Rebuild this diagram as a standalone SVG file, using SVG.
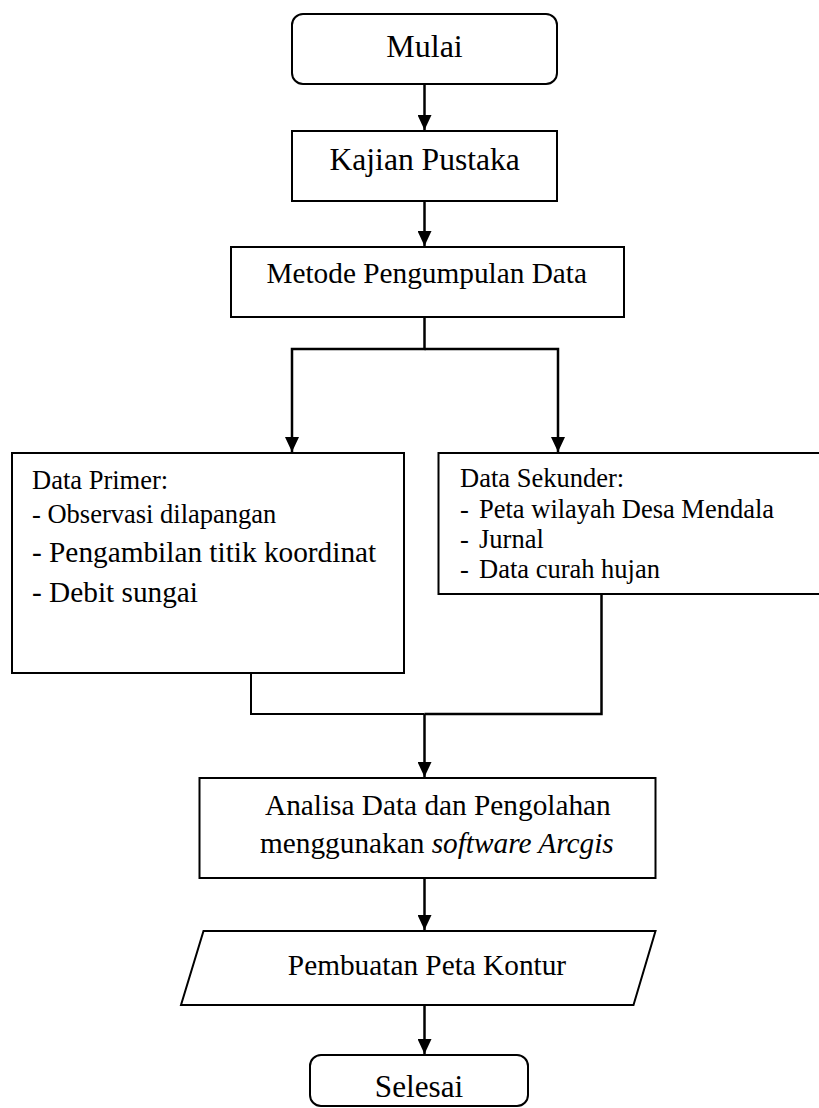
<svg xmlns="http://www.w3.org/2000/svg" width="819" height="1108" viewBox="0 0 819 1108">
<style>
.box{fill:#fff;stroke:#000;stroke-width:2}
.c{text-anchor:middle}
.conn path{fill:none;stroke:#000;stroke-width:2.5}
</style>
<defs>
<marker id="ah" markerUnits="userSpaceOnUse" markerWidth="15" markerHeight="14" refX="15" refY="7" orient="auto">
<path d="M0,0 L15,7 L0,14 z" fill="#000"/>
</marker>
</defs>
<g font-family="Liberation Serif, Times New Roman, serif" fill="#000">
<g id="mulai">
<rect class="box" x="292" y="14" width="265" height="70" rx="11"/>
<text class="c" x="424.5" y="57" font-size="32">Mulai</text>
</g>
<g id="kajian">
<rect class="box" x="292" y="131" width="265" height="70"/>
<text class="c" x="424.7" y="170" font-size="31.6">Kajian Pustaka</text>
</g>
<g id="metode">
<rect class="box" x="231" y="247" width="393" height="70"/>
<text class="c" x="426.7" y="283" font-size="29.3">Metode Pengumpulan Data</text>
</g>
<g id="primer">
<rect class="box" x="12" y="453" width="392" height="220"/>
<text x="32" y="489" font-size="26.5">Data Primer:</text>
<text x="32" y="523" font-size="26.5">- Observasi dilapangan</text>
<text x="32" y="562" font-size="29.3">- Pengambilan titik koordinat</text>
<text x="32" y="602" font-size="29.3">- Debit sungai</text>
</g>
<g id="sekunder">
<rect class="box" x="438.5" y="453" width="390" height="141"/>
<text x="460" y="487" font-size="26.5">Data Sekunder:</text>
<text x="460" y="518" font-size="26.5">-<tspan x="479">Peta wilayah Desa Mendala</tspan></text>
<text x="460" y="548" font-size="26.5">-<tspan x="479">Jurnal</tspan></text>
<text x="460" y="578" font-size="26.5">-<tspan x="479">Data curah hujan</tspan></text>
</g>
<g id="analisa">
<rect class="box" x="199.5" y="778" width="456" height="100"/>
<text x="265" y="815" font-size="29.3">Analisa Data dan Pengolahan</text>
<text x="260" y="853" font-size="29.3">menggunakan <tspan font-style="italic">software Arcgis</tspan></text>
</g>
<g id="pembuatan">
<polygon class="box" points="203.5,931 655.5,931 633.5,1005 181,1005"/>
<text class="c" x="427" y="975" font-size="29.3">Pembuatan Peta Kontur</text>
</g>
<g id="selesai">
<rect class="box" x="310" y="1055" width="218" height="51" rx="11"/>
<text class="c" x="419" y="1097" font-size="31.2">Selesai</text>
</g>
</g>
<g id="connectors" class="conn">
<path d="M424.5,84 V130" marker-end="url(#ah)"/>
<path d="M424.5,201 V246" marker-end="url(#ah)"/>
<path d="M424.5,317 V349 H292 V452" marker-end="url(#ah)"/>
<path d="M424.5,349 H558 V452" marker-end="url(#ah)"/>
<path d="M251,673 V714 H424.5" style="stroke-width:2"/>
<path d="M601.5,594 V714 H424.5"/>
<path d="M424.5,714 V777" marker-end="url(#ah)"/>
<path d="M424.5,878 V930" marker-end="url(#ah)"/>
<path d="M424.5,1005 V1054" marker-end="url(#ah)"/>
</g>
</svg>
